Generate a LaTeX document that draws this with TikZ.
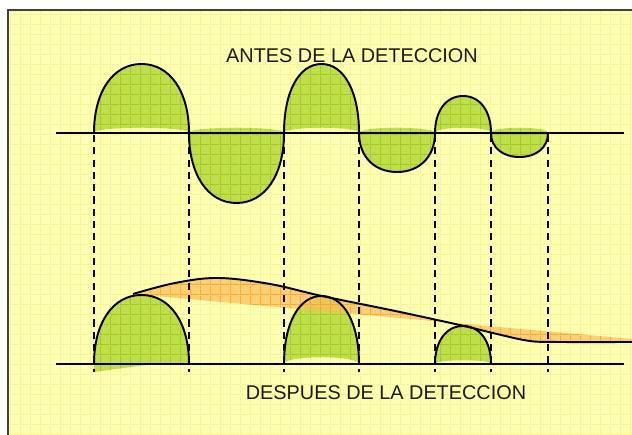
\documentclass[tikz,border=0pt]{standalone}
\usepackage{fontspec}
\setmainfont{Liberation Sans}
\usetikzlibrary{patterns.meta}

\definecolor{sheetyellow}{RGB}{255,255,178}
\definecolor{sheetgrid}{RGB}{246,244,150}
\definecolor{lobegreen}{RGB}{192,222,74}
\definecolor{lobegrid}{RGB}{162,200,40}
\definecolor{envorange}{RGB}{252,192,90}
\definecolor{envgrid}{RGB}{244,160,40}
\definecolor{framegray}{RGB}{64,64,64}

\tikzdeclarepattern{
  name=fine grid,
  type=uncolored,
  bounding box={(0,0) and (5.7pt,5.7pt)},
  tile size={(5.7pt,5.7pt)},
  code={\draw[line width=0.5pt] (0,0.25pt) -- (5.7pt,0.25pt) (0.25pt,0) -- (0.25pt,5.7pt);}
}

\tikzset{
  lobe fill/.style={fill=lobegreen,postaction={pattern=fine grid,pattern color=lobegrid}},
  lobe line/.style={line width=1.1pt},
  axis line/.style={line width=1.2pt},
  drop line/.style={line width=1.15pt,dash pattern=on 4pt off 3pt},
  caption/.style={font=\fontsize{11.3pt}{13pt}\selectfont,text=black!90}
}

\begin{document}
\begin{tikzpicture}[x=0.02cm,y=0.02cm]

  \useasboundingbox (0,0) rectangle (632,435);
  \begin{scope}
    \clip (0,0) rectangle (632,435);
    \fill[sheetyellow,postaction={pattern=fine grid,pattern color=sheetgrid}] (8,425) rectangle (650,-20);
    \draw[framegray,line width=1.2pt] (650,425) -- (8,425) -- (8,-20);
  \end{scope}

  % lobes before the detection (axis at 302)
  \foreach \a/\b/\h in {94/189/69, 189/284/-70, 284/359/69, 359/435/-39, 435/491/37, 491/548/-24}{
    \pgfmathsetmacro{\c}{(\a+\b)/2}
    \pgfmathsetmacro{\r}{(\b-\a)/2}
    \fill[lobe fill] (\a,302) .. controls (\a,{302+0.6*\h}) and ({\c-0.6*\r},{302+\h}) .. (\c,{302+\h})
      .. controls ({\c+0.6*\r},{302+\h}) and (\b,{302+0.6*\h}) .. (\b,302)
      .. controls (\b,309) and (\a,309) .. cycle;
    \draw[lobe line] (\a,302) .. controls (\a,{302+0.6*\h}) and ({\c-0.6*\r},{302+\h}) .. (\c,{302+\h})
      .. controls ({\c+0.6*\r},{302+\h}) and (\b,{302+0.6*\h}) .. (\b,302);
  }

  % lobes after the detection (axis at 71)
  \fill[lobe fill] (94,71) -- (153,71) -- (94,63) -- cycle;
  \foreach \a/\b/\h/\d in {94/189/69/0, 284/359/68/9, 435/491/38/5}{
    \pgfmathsetmacro{\c}{(\a+\b)/2}
    \pgfmathsetmacro{\r}{(\b-\a)/2}
    \fill[lobe fill] (\a,71) .. controls (\a,{71+0.6*\h}) and ({\c-0.6*\r},{71+\h}) .. (\c,{71+\h})
      .. controls ({\c+0.6*\r},{71+\h}) and (\b,{71+0.6*\h}) .. (\b,71)
      .. controls (\b,{71+\d}) and (\a,{71+\d}) .. cycle;
  }

  % envelope
  \fill[envorange,opacity=0.75,postaction={pattern=fine grid,pattern color=envgrid}]
    plot[smooth,tension=0.6] coordinates {(133,141) (175,152) (218,157) (270,151) (322,139) (400,123)
      (464,109) (497,101) (530,94) (560,93) (632,93)}
    -- (632,96) -- (133,141) -- cycle;

  \foreach \a/\b/\h in {94/189/69, 284/359/68, 435/491/38}{
    \pgfmathsetmacro{\c}{(\a+\b)/2}
    \pgfmathsetmacro{\r}{(\b-\a)/2}
    \draw[lobe line] (\a,71) .. controls (\a,{71+0.6*\h}) and ({\c-0.6*\r},{71+\h}) .. (\c,{71+\h})
      .. controls ({\c+0.6*\r},{71+\h}) and (\b,{71+0.6*\h}) .. (\b,71);
  }

  \draw[lobe line] plot[smooth,tension=0.6] coordinates {(133,141) (175,152) (218,157) (270,151) (322,139)
    (400,123) (464,109) (497,101) (530,94) (560,93) (632,93)};

  % axes and drop lines
  \draw[axis line] (56,302) -- (624,302);
  \draw[axis line] (56,71) -- (624,71);
  \foreach \x in {94,189,284,359,435,491,548}
    \draw[drop line] (\x,300) -- (\x,63);

  \node[caption] (title_before) at (352,379) {ANTES DE LA DETECCION};
  \node[caption] (title_after) at (386,42) {DESPUES DE LA DETECCION};

\end{tikzpicture}
\end{document}
